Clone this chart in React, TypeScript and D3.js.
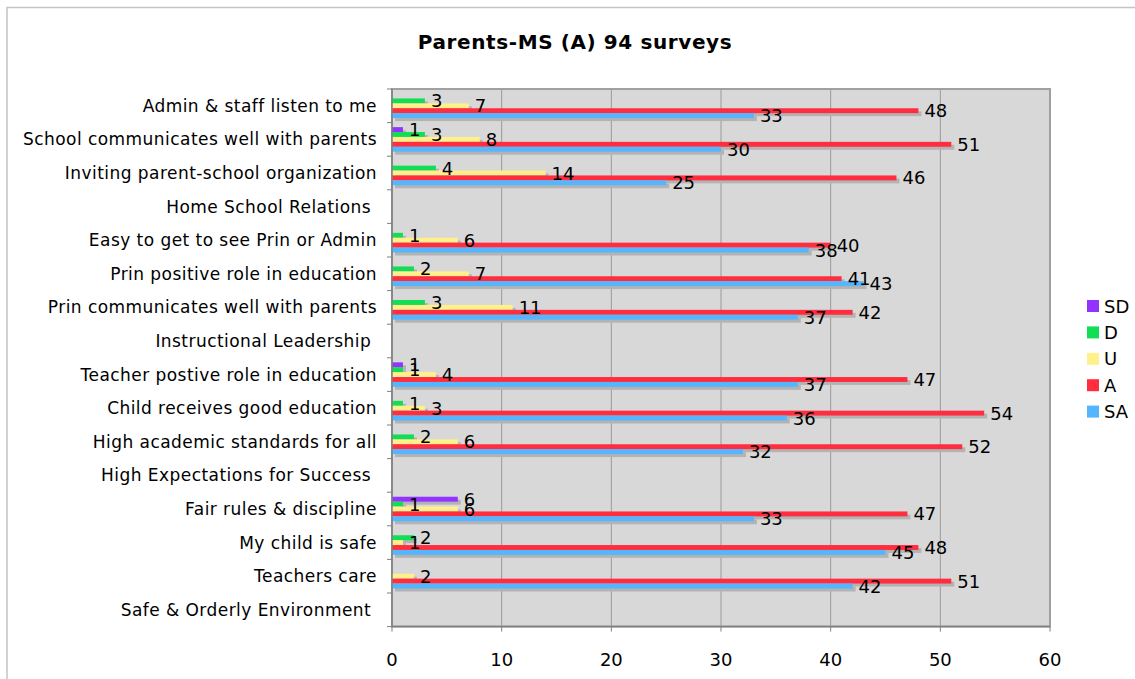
import React from "react";
import * as d3 from "d3";

const title = "Parents-MS (A) 94 surveys";

const categories = [
  "Admin & staff listen to me",
  "School communicates well with parents",
  "Inviting parent-school organization",
  "Home School Relations ",
  "Easy to get to see Prin or Admin",
  "Prin positive role in education",
  "Prin communicates well with parents",
  "Instructional Leadership ",
  "Teacher postive role in education",
  "Child receives good education",
  "High academic standards for all",
  "High Expectations for Success ",
  "Fair rules & discipline",
  "My child is safe",
  "Teachers care",
  "Safe & Orderly Environment ",
];

const seriesNames = ["SD", "D", "U", "A", "SA"];
const seriesColors = ["#9233ff", "#11dd55", "#fff08c", "#ff2d3d", "#55b6ff"];

const sdValues: (number | null)[] = [null, 1, null, null, null, null, null, null, 1, null, null, null, 6, null, null, null];
const dValues: (number | null)[] = [3, 3, 4, null, 1, 2, 3, null, 1, 1, 2, null, 1, 2, null, null];
const uValues: (number | null)[] = [7, 8, 14, null, 6, 7, 11, null, 4, 3, 6, null, 6, 1, 2, null];
const aValues: (number | null)[] = [48, 51, 46, null, 40, 41, 42, null, 47, 54, 52, null, 47, 48, 51, null];
const saValues: (number | null)[] = [33, 30, 25, null, 38, 43, 37, null, 37, 36, 32, null, 33, 45, 42, null];

const allSeries = [sdValues, dValues, uValues, aValues, saValues];

const xTicks = [0, 10, 20, 30, 40, 50, 60];

const W = 1135;
const H = 679;
const plotLeft = 392;
const plotRight = 1050;
const plotTop = 89;
const plotBottom = 626.6;
const font = "'DejaVu Sans', Verdana, sans-serif";

export default function App() {
  const x = d3.scaleLinear().domain([0, 60]).range([plotLeft, plotRight]);
  const y0 = d3
    .scaleBand<string>()
    .domain(categories.map((_, i) => String(i)))
    .range([plotTop, plotBottom])
    .paddingInner(0.27)
    .paddingOuter(0.135);
  const y1 = d3
    .scaleBand<string>()
    .domain(seriesNames)
    .range([0, y0.bandwidth()]);
  const step = y0.step();
  const boundaries = d3.range(categories.length + 1).map((i) => plotTop + i * step);

  const bars: { ci: number; si: number; v: number }[] = [];
  allSeries.forEach((arr, si) =>
    arr.forEach((v, ci) => {
      if (v !== null && v !== undefined) bars.push({ ci, si, v });
    })
  );

  return (
    <svg
      width={W}
      height={H}
      style={{ position: "absolute", left: 0, top: 0, display: "block", background: "#fff" }}
      fontFamily={font}
    >
      <rect x={7} y={7.5} width={W + 10} height={H + 10} fill="#fff" stroke="#c4c4c4" strokeWidth={1.5} />
      <text x={575} y={49} textAnchor="middle" fontSize={20} fontWeight="bold" letterSpacing={0.6} fill="#000">
        {title}
      </text>

      {/* plot area */}
      <rect x={plotLeft} y={plotTop} width={plotRight - plotLeft} height={plotBottom - plotTop} fill="#d8d8d8" />
      {xTicks.slice(1, -1).map((t) => (
        <line key={t} x1={x(t)} x2={x(t)} y1={plotTop} y2={plotBottom} stroke="#9a9a9a" strokeWidth={1} />
      ))}
      <rect
        x={plotLeft}
        y={plotTop}
        width={plotRight - plotLeft}
        height={plotBottom - plotTop}
        fill="none"
        stroke="#a0a0a0"
        strokeWidth={2}
      />

      {/* shadows */}
      {bars.map((b, i) => (
        <rect
          key={"s" + i}
          x={x(0) + 3}
          y={(y0(String(b.ci)) as number) + (y1(seriesNames[b.si]) as number) + 3}
          width={x(b.v) - x(0)}
          height={y1.bandwidth()}
          fill="#b3b3b3"
        />
      ))}
      {/* bars */}
      {bars.map((b, i) => (
        <rect
          key={"b" + i}
          x={x(0)}
          y={(y0(String(b.ci)) as number) + (y1(seriesNames[b.si]) as number)}
          width={x(b.v) - x(0)}
          height={y1.bandwidth()}
          fill={seriesColors[b.si]}
        />
      ))}
      {/* value labels */}
      {bars.map((b, i) => (
        <text
          key={"l" + i}
          x={x(b.v) + 6}
          y={(y0(String(b.ci)) as number) + (y1(seriesNames[b.si]) as number) + y1.bandwidth() / 2 + 6.5}
          fontSize={18}
          fill="#000"
        >
          {b.v}
        </text>
      ))}

      {/* y axis */}
      <line x1={plotLeft} x2={plotLeft} y1={plotTop} y2={plotBottom} stroke="#808080" strokeWidth={1.5} />
      {boundaries.map((b, i) => (
        <line key={"yt" + i} x1={plotLeft - 5} x2={plotLeft} y1={b} y2={b} stroke="#808080" strokeWidth={1} />
      ))}
      {categories.map((c, i) => (
        <text
          key={"c" + i}
          x={plotLeft - 15}
          y={(y0(String(i)) as number) + y0.bandwidth() / 2 + 6}
          textAnchor="end"
          fontSize={17}
          letterSpacing={0.45}
          fill="#000"
          style={{ whiteSpace: "pre" }}
        >
          {c}
        </text>
      ))}

      {/* x axis */}
      <line x1={plotLeft} x2={plotRight} y1={plotBottom} y2={plotBottom} stroke="#808080" strokeWidth={1.5} />
      {xTicks.map((t) => (
        <g key={"xt" + t}>
          <line x1={x(t)} x2={x(t)} y1={plotBottom} y2={plotBottom + 5} stroke="#808080" strokeWidth={1} />
          <text x={x(t)} y={666} textAnchor="middle" fontSize={18} fill="#000">
            {t}
          </text>
        </g>
      ))}

      {/* legend */}
      {seriesNames.map((s, i) => (
        <g key={"lg" + s}>
          <rect x={1087} y={300 + i * 26.4} width={12} height={12} fill={seriesColors[i]} />
          <text x={1104} y={312.5 + i * 26.4} fontSize={18} fill="#000">
            {s}
          </text>
        </g>
      ))}
    </svg>
  );
}
